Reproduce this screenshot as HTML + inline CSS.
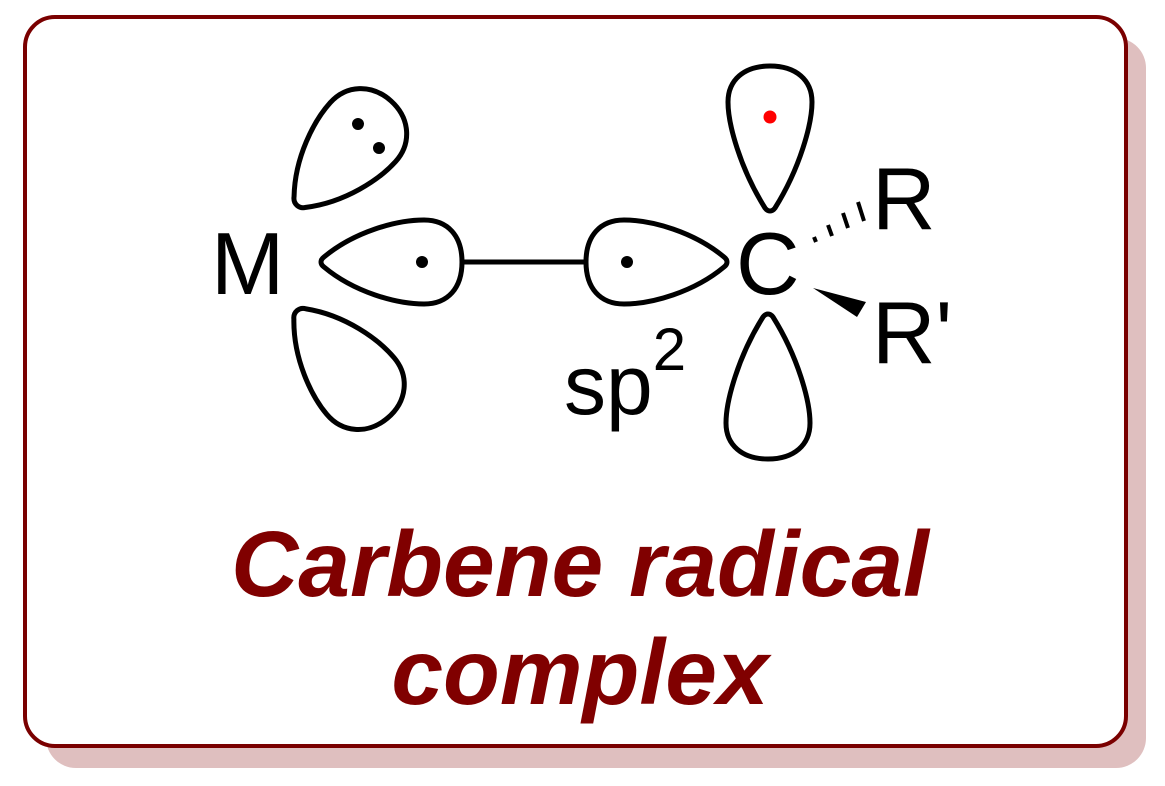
<!DOCTYPE html>
<html><head><meta charset="utf-8"><style>
html,body{margin:0;padding:0;background:#fff;}
svg{display:block;}
</style></head><body>
<svg width="1165" height="786" viewBox="0 0 1165 786" xmlns="http://www.w3.org/2000/svg">
<defs>
<path id="lobeH" d="M0 -5 C 30 -30, 72 -42, 100 -42 C 124 -42, 138 -26, 138 0 C 138 26, 124 42, 100 42 C 72 42, 30 30, 0 5 C -4 2, -4 -2, 0 -5 Z"/>
<path id="lobeV" d="M0 -5 C 40 -30, 84 -42, 106 -42 C 128 -42, 142 -26, 142 0 C 142 26, 128 42, 106 42 C 84 42, 40 30, 0 5 C -4 2, -4 -2, 0 -5 Z"/>
<path id="lobeD" d="M0 -8 C 30 -34, 70 -44, 94 -44 C 118 -44, 136 -26, 136 0 C 136 26, 118 44, 94 44 C 70 44, 30 34, 0 8 C -6 4, -6 -4, 0 -8 Z"/>
</defs>
<rect x="46" y="38" width="1100" height="730" rx="30" fill="#dfbfbf"/>
<rect x="25" y="17" width="1101" height="729" rx="30" fill="#fff" stroke="#7a0000" stroke-width="4"/>
<g fill="none" stroke="#000" stroke-width="5" stroke-linejoin="round">
<use href="#lobeH" transform="translate(324 262)"/>
<use href="#lobeH" transform="translate(724 262) rotate(180)"/>
<use href="#lobeV" transform="translate(770 208) rotate(-90)"/>
<use href="#lobeV" transform="translate(768 317) rotate(90)"/>
<use href="#lobeD" transform="translate(300 202) rotate(-48)"/>
<use href="#lobeD" transform="translate(300 314) rotate(50)"/>
<line x1="462" y1="262" x2="588" y2="262"/>
</g>
<g fill="#000">
<circle cx="358" cy="124" r="6"/><circle cx="379" cy="148" r="6"/>
<circle cx="422" cy="262" r="6"/><circle cx="627" cy="262" r="6"/>
<polygon points="813,288 866,302 857,317"/>
</g>
<circle cx="770" cy="117" r="6.5" fill="#f00"/>
<g stroke="#000" stroke-width="4">
<line x1="816" y1="242" x2="814" y2="237"/>
<line x1="832" y1="236" x2="828" y2="225"/>
<line x1="848" y1="228" x2="843" y2="213"/>
<line x1="864" y1="221" x2="858" y2="202"/>
</g>
<g font-family="'Liberation Sans', sans-serif" font-size="88" fill="#000">
<text x="211" y="294">M</text>
<text x="736" y="294">C</text>
<text x="872" y="229">R</text>
<text x="872" y="363">R'</text>
<text x="564" y="414" font-size="84">sp<tspan font-size="60" dy="-44">2</tspan></text>
</g>
<g font-family="'Liberation Sans', sans-serif" font-size="93" font-weight="bold" font-style="italic" fill="#800000" text-anchor="middle">
<text x="580" y="596">Carbene radical</text>
<text x="580" y="704">complex</text>
</g>
</svg>
</body></html>
